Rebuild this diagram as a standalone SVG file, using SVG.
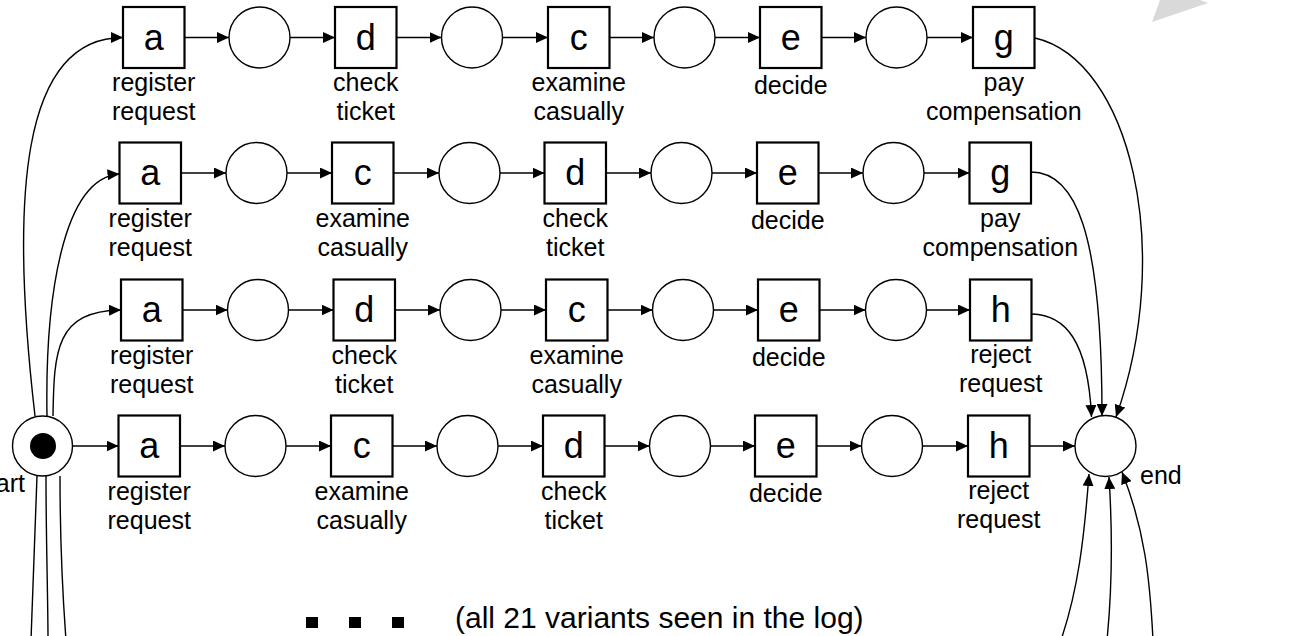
<svg xmlns="http://www.w3.org/2000/svg" width="1298" height="636" viewBox="0 0 1298 636">
<defs>
<marker id="arr" viewBox="0 0 12 11" markerWidth="12" markerHeight="11" refX="12" refY="5.5" orient="auto" markerUnits="userSpaceOnUse">
<path d="M0,0 L12,5.5 L0,11 z" fill="#000"/>
</marker>
<style>
.box{fill:#fff;stroke:#000;stroke-width:2.2}
.pl{fill:#fff;stroke:#000;stroke-width:1.4}
.lt{font-family:"Liberation Sans",Arial,sans-serif;font-size:36px;text-anchor:middle;fill:#000}
.lb{font-family:"Liberation Sans",Arial,sans-serif;font-size:25px;text-anchor:middle;fill:#000}
.cn line,.cn path{fill:none;stroke:#000;stroke-width:1.4}
.ar{marker-end:url(#arr)}
</style>
</defs>
<rect width="1298" height="636" fill="#fff"/>
<polygon points="1152,22 1160,0 1200,0 1208,3" fill="#d9d9d9"/>

<g id="connectors" class="cn">
<!-- start arcs -->
<path class="ar" d="M35,416 C10,200 20,37.5 123,37.5"/>
<path class="ar" d="M47,416 C45,300 62,178 119.5,174"/>
<path class="ar" d="M53,416 C54,350 56,311 121,310"/>
<path d="M37,476 C35,540 32,600 31,640"/>
<path d="M46,476 C46,540 48,600 48,640"/>
<path d="M60,476 C60,540 63,600 66,640"/>
<!-- row 1 -->
<line class="ar" x1="184.5" y1="37.5" x2="229" y2="37.5"/>
<line class="ar" x1="290" y1="37.5" x2="335" y2="37.5"/>
<line class="ar" x1="396.5" y1="37.5" x2="441.5" y2="37.5"/>
<line class="ar" x1="502.5" y1="37.5" x2="548" y2="37.5"/>
<line class="ar" x1="609.5" y1="37.5" x2="654" y2="37.5"/>
<line class="ar" x1="715" y1="37.5" x2="760" y2="37.5"/>
<line class="ar" x1="821.5" y1="37.5" x2="866" y2="37.5"/>
<line class="ar" x1="927" y1="37.5" x2="973" y2="37.5"/>
<!-- row 2 -->
<line class="ar" x1="181" y1="173" x2="226" y2="173"/>
<line class="ar" x1="287" y1="173" x2="332" y2="173"/>
<line class="ar" x1="393.5" y1="173" x2="439" y2="173"/>
<line class="ar" x1="500" y1="173" x2="544.5" y2="173"/>
<line class="ar" x1="606" y1="173" x2="651" y2="173"/>
<line class="ar" x1="712" y1="173" x2="757" y2="173"/>
<line class="ar" x1="818.5" y1="173" x2="863" y2="173"/>
<line class="ar" x1="924" y1="173" x2="969.5" y2="173"/>
<!-- row 3 -->
<line class="ar" x1="182.5" y1="310" x2="227.5" y2="310"/>
<line class="ar" x1="288.5" y1="310" x2="333.5" y2="310"/>
<line class="ar" x1="395" y1="310" x2="440" y2="310"/>
<line class="ar" x1="501" y1="310" x2="546" y2="310"/>
<line class="ar" x1="607.5" y1="310" x2="652.5" y2="310"/>
<line class="ar" x1="713.5" y1="310" x2="758" y2="310"/>
<line class="ar" x1="819.5" y1="310" x2="865.5" y2="310"/>
<line class="ar" x1="926.5" y1="310" x2="970" y2="310"/>
<!-- row 4 -->
<line class="ar" x1="72.5" y1="446" x2="118.5" y2="446"/>
<line class="ar" x1="180" y1="446" x2="225" y2="446"/>
<line class="ar" x1="286" y1="446" x2="331" y2="446"/>
<line class="ar" x1="392.5" y1="446" x2="437" y2="446"/>
<line class="ar" x1="498" y1="446" x2="543" y2="446"/>
<line class="ar" x1="604.5" y1="446" x2="649.5" y2="446"/>
<line class="ar" x1="710.5" y1="446" x2="755" y2="446"/>
<line class="ar" x1="816.5" y1="446" x2="861.5" y2="446"/>
<line class="ar" x1="922.5" y1="446" x2="968" y2="446"/>
<line class="ar" x1="1029.5" y1="446" x2="1075" y2="446"/>
<!-- into end -->
<path class="ar" d="M1035,38 C1130,60 1175,250 1116,417"/>
<path class="ar" d="M1031,172 C1075,172 1102,230 1102,416"/>
<path class="ar" d="M1032,314 C1065,315 1088,340 1091.5,417"/>
<path class="ar" d="M1061,640 C1078,590 1084,540 1089,474"/>
<path class="ar" d="M1107,640 C1112,590 1113,540 1109,477"/>
<path class="ar" d="M1153,640 C1150,580 1145,530 1122,472"/>
</g>

<g id="start">
<circle class="pl" cx="42.5" cy="446" r="30"/>
<circle cx="43" cy="446" r="13" fill="#000"/>
<text class="lb" x="25" y="492" style="text-anchor:end">start</text>
</g>
<g id="end">
<circle class="pl" cx="1105.5" cy="446" r="30.5"/>
<text class="lb" x="1140" y="484" style="text-anchor:start">end</text>
</g>

<!-- Row 1 -->
<g id="r1a"><rect class="box" x="123" y="7" width="61.5" height="61"/><text class="lt" x="153.75" y="49.5">a</text><text class="lb" x="153.75" y="91">register</text><text class="lb" x="153.75" y="120">request</text></g>
<g id="r1p1"><circle class="pl" cx="259.5" cy="37.5" r="30.5"/></g>
<g id="r1d"><rect class="box" x="335" y="7" width="61.5" height="61"/><text class="lt" x="365.75" y="49.5">d</text><text class="lb" x="365.75" y="91">check</text><text class="lb" x="365.75" y="120">ticket</text></g>
<g id="r1p2"><circle class="pl" cx="472" cy="37.5" r="30.5"/></g>
<g id="r1c"><rect class="box" x="548" y="7" width="61.5" height="61"/><text class="lt" x="578.75" y="49.5">c</text><text class="lb" x="578.75" y="91">examine</text><text class="lb" x="578.75" y="120">casually</text></g>
<g id="r1p3"><circle class="pl" cx="684.5" cy="37.5" r="30.5"/></g>
<g id="r1e"><rect class="box" x="760" y="7" width="61.5" height="61"/><text class="lt" x="790.75" y="49.5">e</text><text class="lb" x="790.75" y="93.5">decide</text></g>
<g id="r1p4"><circle class="pl" cx="896.5" cy="37.5" r="30.5"/></g>
<g id="r1g"><rect class="box" x="973" y="7" width="61.5" height="61"/><text class="lt" x="1003.75" y="49.5">g</text><text class="lb" x="1003.75" y="91">pay</text><text class="lb" x="1003.75" y="120">compensation</text></g>

<!-- Row 2 -->
<g id="r2a"><rect class="box" x="119.5" y="142.5" width="61.5" height="61"/><text class="lt" x="150.25" y="185">a</text><text class="lb" x="150.25" y="226.5">register</text><text class="lb" x="150.25" y="255.5">request</text></g>
<g id="r2p1"><circle class="pl" cx="256.5" cy="173" r="30.5"/></g>
<g id="r2c"><rect class="box" x="332" y="142.5" width="61.5" height="61"/><text class="lt" x="362.75" y="185">c</text><text class="lb" x="362.75" y="226.5">examine</text><text class="lb" x="362.75" y="255.5">casually</text></g>
<g id="r2p2"><circle class="pl" cx="469.5" cy="173" r="30.5"/></g>
<g id="r2d"><rect class="box" x="544.5" y="142.5" width="61.5" height="61"/><text class="lt" x="575.25" y="185">d</text><text class="lb" x="575.25" y="226.5">check</text><text class="lb" x="575.25" y="255.5">ticket</text></g>
<g id="r2p3"><circle class="pl" cx="681.5" cy="173" r="30.5"/></g>
<g id="r2e"><rect class="box" x="757" y="142.5" width="61.5" height="61"/><text class="lt" x="787.75" y="185">e</text><text class="lb" x="787.75" y="229">decide</text></g>
<g id="r2p4"><circle class="pl" cx="893.5" cy="173" r="30.5"/></g>
<g id="r2g"><rect class="box" x="969.5" y="142.5" width="61.5" height="61"/><text class="lt" x="1000.25" y="185">g</text><text class="lb" x="1000.25" y="226.5">pay</text><text class="lb" x="1000.25" y="255.5">compensation</text></g>

<!-- Row 3 -->
<g id="r3a"><rect class="box" x="121" y="279.5" width="61.5" height="61"/><text class="lt" x="151.75" y="322">a</text><text class="lb" x="151.75" y="363.5">register</text><text class="lb" x="151.75" y="392.5">request</text></g>
<g id="r3p1"><circle class="pl" cx="258" cy="310" r="30.5"/></g>
<g id="r3d"><rect class="box" x="333.5" y="279.5" width="61.5" height="61"/><text class="lt" x="364.25" y="322">d</text><text class="lb" x="364.25" y="363.5">check</text><text class="lb" x="364.25" y="392.5">ticket</text></g>
<g id="r3p2"><circle class="pl" cx="470.5" cy="310" r="30.5"/></g>
<g id="r3c"><rect class="box" x="546" y="279.5" width="61.5" height="61"/><text class="lt" x="576.75" y="322">c</text><text class="lb" x="576.75" y="363.5">examine</text><text class="lb" x="576.75" y="392.5">casually</text></g>
<g id="r3p3"><circle class="pl" cx="683" cy="310" r="30.5"/></g>
<g id="r3e"><rect class="box" x="758" y="279.5" width="61.5" height="61"/><text class="lt" x="788.75" y="322">e</text><text class="lb" x="788.75" y="366">decide</text></g>
<g id="r3p4"><circle class="pl" cx="896" cy="310" r="30.5"/></g>
<g id="r3h"><rect class="box" x="970" y="279.5" width="61.5" height="61"/><text class="lt" x="1000.75" y="322">h</text><text class="lb" x="1000.75" y="362.5">reject</text><text class="lb" x="1000.75" y="392">request</text></g>

<!-- Row 4 -->
<g id="r4a"><rect class="box" x="118.5" y="415.5" width="61.5" height="61"/><text class="lt" x="149.25" y="458">a</text><text class="lb" x="149.25" y="499.5">register</text><text class="lb" x="149.25" y="528.5">request</text></g>
<g id="r4p1"><circle class="pl" cx="255.5" cy="446" r="30.5"/></g>
<g id="r4c"><rect class="box" x="331" y="415.5" width="61.5" height="61"/><text class="lt" x="361.75" y="458">c</text><text class="lb" x="361.75" y="499.5">examine</text><text class="lb" x="361.75" y="528.5">casually</text></g>
<g id="r4p2"><circle class="pl" cx="467.5" cy="446" r="30.5"/></g>
<g id="r4d"><rect class="box" x="543" y="415.5" width="61.5" height="61"/><text class="lt" x="573.75" y="458">d</text><text class="lb" x="573.75" y="499.5">check</text><text class="lb" x="573.75" y="528.5">ticket</text></g>
<g id="r4p3"><circle class="pl" cx="680" cy="446" r="30.5"/></g>
<g id="r4e"><rect class="box" x="755" y="415.5" width="61.5" height="61"/><text class="lt" x="785.75" y="458">e</text><text class="lb" x="785.75" y="502">decide</text></g>
<g id="r4p4"><circle class="pl" cx="892" cy="446" r="30.5"/></g>
<g id="r4h"><rect class="box" x="968" y="415.5" width="61.5" height="61"/><text class="lt" x="998.75" y="458">h</text><text class="lb" x="998.75" y="498.5">reject</text><text class="lb" x="998.75" y="528">request</text></g>

<g id="more">
<rect x="306" y="617" width="12" height="11" fill="#000"/>
<rect x="349" y="617" width="12" height="11" fill="#000"/>
<rect x="392" y="617" width="12" height="11" fill="#000"/>
<text x="455" y="628" style="font-family:'Liberation Sans',Arial,sans-serif;font-size:30px;fill:#000">(all 21 variants seen in the log)</text>
</g>
</svg>
